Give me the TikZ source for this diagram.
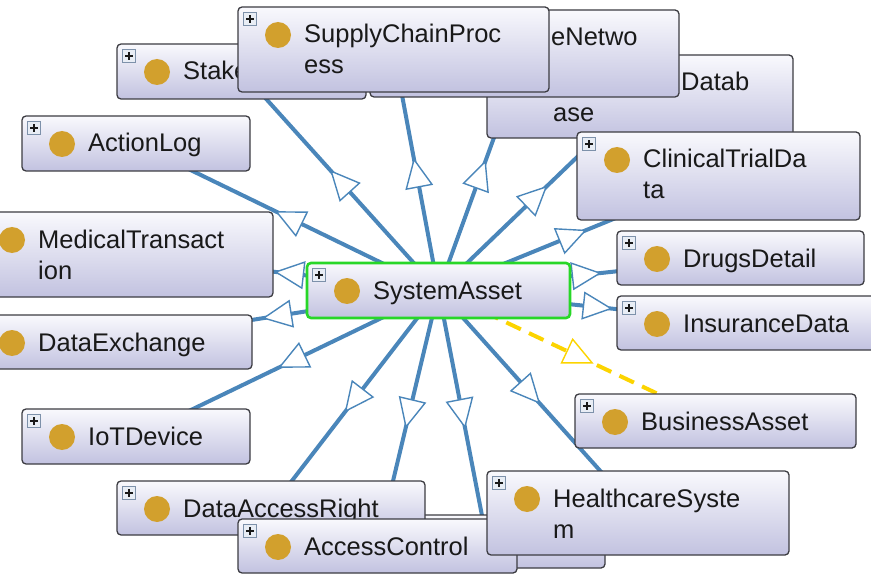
\documentclass[tikz,border=0pt]{standalone}
\usepackage{fontspec}
\setmainfont{Liberation Sans}
\usetikzlibrary{arrows.meta,decorations.markings,backgrounds,fit,calc}
\definecolor{ogblue}{RGB}{74,134,186}
\definecolor{ogyellow}{RGB}{252,212,0}
\definecolor{oggold}{RGB}{210,160,45}
\definecolor{ogtop}{RGB}{249,249,253}
\definecolor{ogbot}{RGB}{194,194,224}
\definecolor{ogborder}{RGB}{60,60,66}
\definecolor{oggreen}{RGB}{40,215,40}
\definecolor{ogtext}{RGB}{25,25,25}
\definecolor{ogplusfill}{RGB}{232,237,245}
\definecolor{ogplusdraw}{RGB}{125,145,170}
\tikzset{
  ogbox/.style={rectangle, rounded corners=4pt, draw=ogborder, line width=1.3pt,
    top color=ogtop, bottom color=ogbot, inner sep=0pt, outer sep=0pt},
  ogplus/.style={rectangle, draw=ogplusdraw, fill=ogplusfill, line width=0.8pt,
    minimum size=13pt, inner sep=0pt,
    path picture={\draw[line width=1.2pt, ogtext]
      ($(path picture bounding box.center)+(-3.8,0)$) -- ($(path picture bounding box.center)+(3.8,0)$)
      ($(path picture bounding box.center)+(0,-3.8)$) -- ($(path picture bounding box.center)+(0,3.8)$);}},
  ogdot/.style={circle, fill=oggold, minimum size=26pt, inner sep=0pt},
  ogtxt/.style={anchor=base west, inner sep=0pt, text=ogtext, font=\fontsize{25.5}{30}\selectfont},
  ogtri/.tip={Triangle[length=30pt 0 0,width=28pt 0 0,fill=white,line width=1.4pt]},
  isaedge/.style={draw=ogblue, line width=4pt, postaction={decorate},
    decoration={markings, mark=at position #1 with
      {\arrow[color=ogblue]{ogtri}}}},
  isaedge/.default=0.55,
  impedge/.style={draw=ogyellow, line width=4pt, dash pattern=on 16pt off 9pt, postaction={decorate},
    decoration={markings, mark=at position #1 with
      {\arrow[color=ogyellow]{ogtri}}}},
  impedge/.default=0.56,
}
\newcommand\OGbox[6][]{\node[ogbox,#1,fit={(#3,#4) (#5,#6)}] (#2) {};}
\newcommand\OGdeco[1]{\node[ogplus] (#1-p) at ($(#1.north west)+(12,12)$) {};
  \node[ogdot] (#1-d) at ($(#1.north west)+(40,28)$) {};}
\newcommand\OGdotonly[1]{\node[ogdot] (#1-d) at ($(#1.north west)+(40,28)$) {};}
\newcommand\OGtext[4]{\node[ogtxt] (#1-t#2) at ($(#1.north west)+(#3)$) {#4};}
\begin{document}
\begin{tikzpicture}[x=1pt,y=-1pt]
\useasboundingbox (0,0) rectangle (871,583);
% ---------- boxes, back to front ----------
\OGbox{datab}{487}{55}{793}{138}
\OGtext{datab}{1}{194,36}{Datab}
\OGtext{datab}{2}{66,67}{ase}
\OGbox{enet}{370}{10}{679}{97}
\OGtext{enet}{1}{181,36}{eNetwo}
\OGbox{stake}{117}{44}{366}{99}
\OGdeco{stake}
\OGtext{stake}{1}{66,36}{Stake}
\OGbox{supply}{238}{7}{549}{92}
\OGdeco{supply}
\OGtext{supply}{1}{66,36}{SupplyChainProc}
\OGtext{supply}{2}{66,67}{ess}
\OGbox{clinical}{577}{132}{860}{220}
\OGdeco{clinical}
\OGtext{clinical}{1}{66,36}{ClinicalTrialDa}
\OGtext{clinical}{2}{66,67}{ta}
\OGbox{action}{22}{116}{250}{171}
\OGdeco{action}
\OGtext{action}{1}{66,36}{ActionLog}
\OGbox{medical}{-28}{212}{273}{297}
\OGdotonly{medical}
\OGtext{medical}{1}{66,36}{MedicalTransact}
\OGtext{medical}{2}{66,67}{ion}
\OGbox{dataex}{-28}{315}{252}{369}
\OGdotonly{dataex}
\OGtext{dataex}{1}{66,36}{DataExchange}
\OGbox{drugs}{617}{231}{864}{285}
\OGdeco{drugs}
\OGtext{drugs}{1}{66,36}{DrugsDetail}
\OGbox{insur}{617}{296}{882}{350}
\OGdeco{insur}
\OGtext{insur}{1}{66,36}{InsuranceData}
\OGbox{business}{575}{394}{856}{448}
\OGdeco{business}
\OGtext{business}{1}{66,36}{BusinessAsset}
\OGbox{iot}{22}{409}{250}{464}
\OGdeco{iot}
\OGtext{iot}{1}{66,36}{IoTDevice}
\OGbox{hidden}{369}{515}{605}{568}
\OGbox{dar}{117}{481}{425}{535}
\OGdeco{dar}
\OGtext{dar}{1}{66,36}{DataAccessRight}
\OGbox{access}{238}{519}{517}{573}
\OGdeco{access}
\OGtext{access}{1}{66,36}{AccessControl}
\OGbox{health}{487}{471}{789}{555}
\OGdeco{health}
\OGtext{health}{1}{66,36}{HealthcareSyste}
\OGtext{health}{2}{66,67}{m}
\OGbox[draw=oggreen, line width=2.6pt]{sys}{307}{263}{570}{318}
\OGdeco{sys}
\OGtext{sys}{1}{66,36}{SystemAsset}
% ---------- connectors ----------
\begin{pgfonlayer}{background}
\draw[isaedge] (sys.center) -- (stake.center);
\draw[isaedge] (sys.center) -- (supply.center);
\draw[isaedge] (sys.center) -- (enet.center);
\draw[isaedge=0.54] (sys.center) -- (datab.center);
\draw[isaedge=0.53] (sys.center) -- (clinical.center);
\draw[isaedge=0.54] (sys.center) -- (drugs.center);
\draw[isaedge=0.56] (sys.center) -- (insur.center);
\draw[impedge] (sys.center) -- (business.center);
\draw[isaedge=0.51] (sys.center) -- (health.center);
\draw[isaedge] (sys.center) -- (hidden.center);
\draw[isaedge=0.54] (sys.center) -- (access.center);
\draw[isaedge=0.56] (sys.center) -- (dar.center);
\draw[isaedge=0.53] (sys.center) -- (iot.center);
\draw[isaedge=0.54] (sys.center) -- (dataex.center);
\draw[isaedge=0.52] (sys.center) -- (medical.center);
\draw[isaedge=0.54] (sys.center) -- (action.center);
\end{pgfonlayer}
\end{tikzpicture}
\end{document}
